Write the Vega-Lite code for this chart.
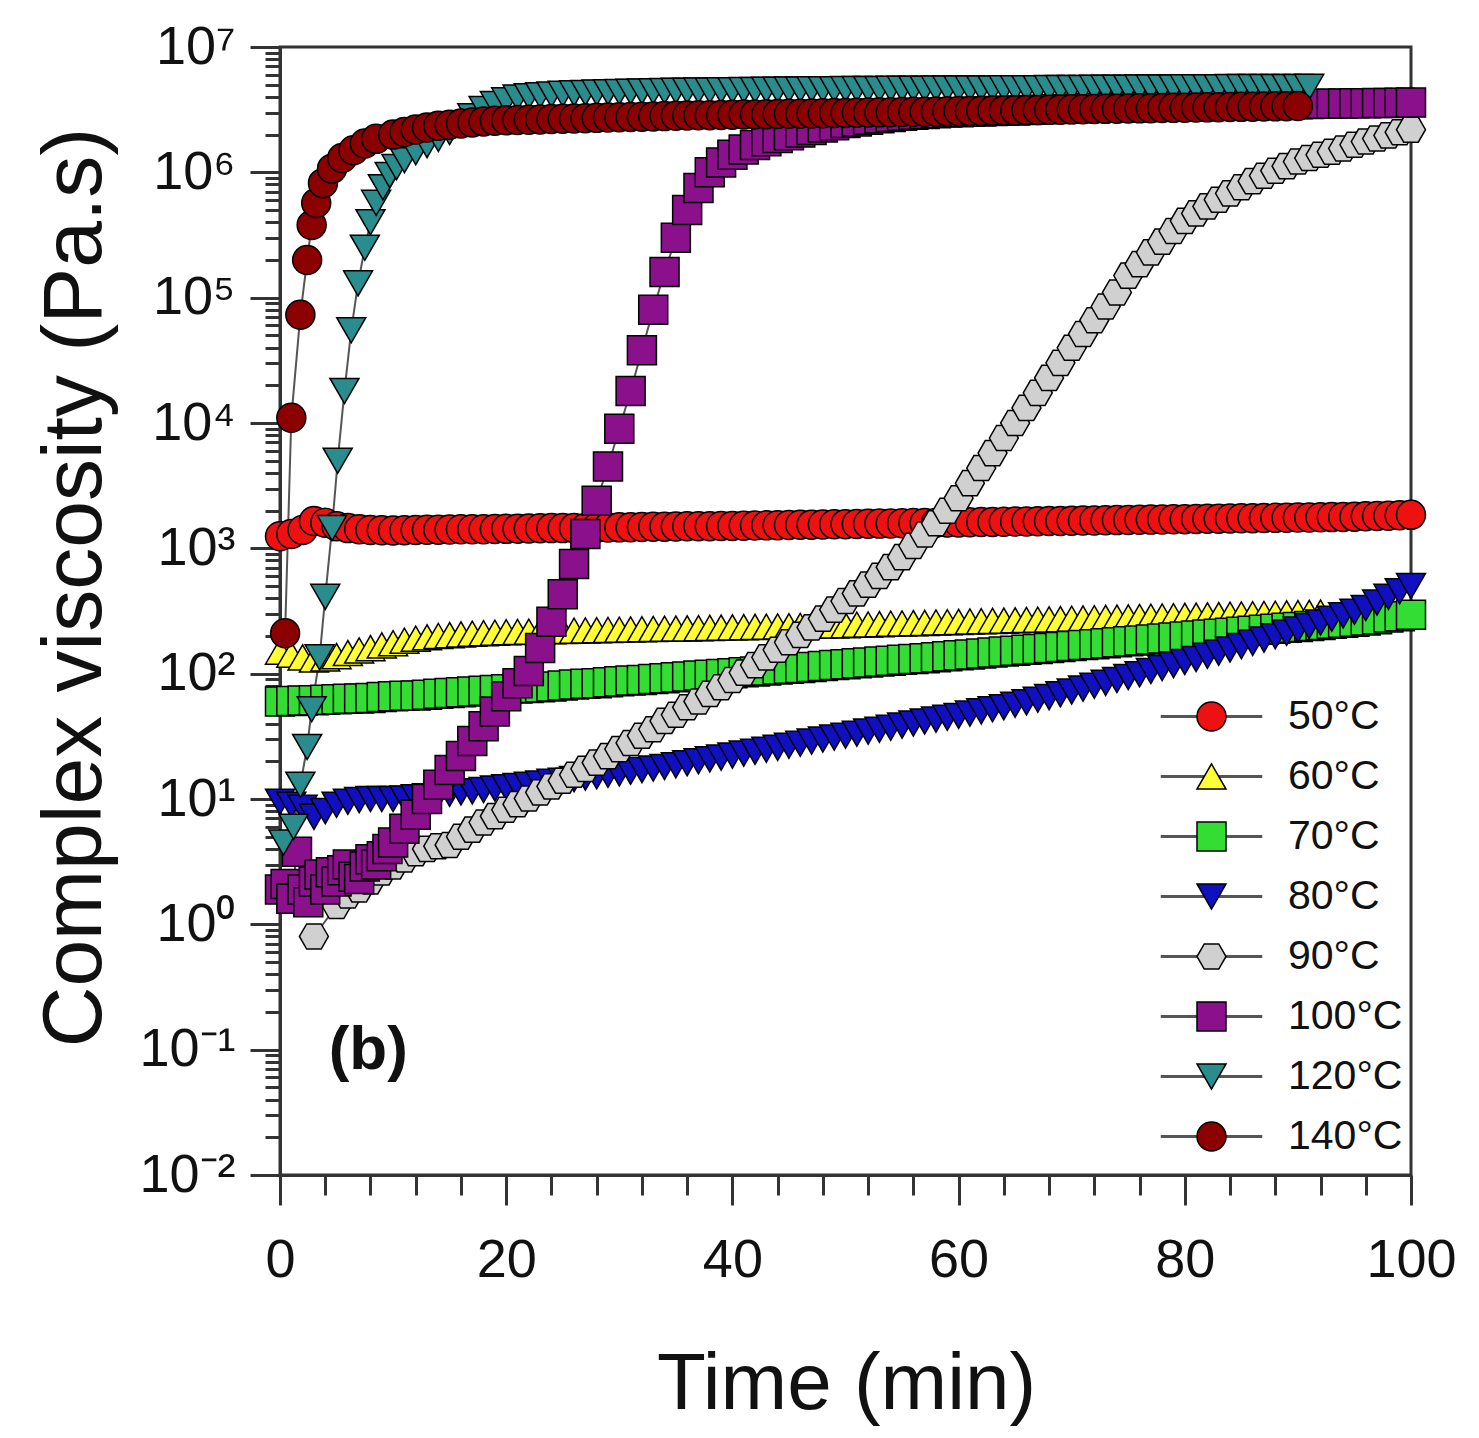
{
  "$schema": "https://vega.github.io/schema/vega-lite/v6.json",
  "width": 1131,
  "height": 1128,
  "autosize": "none",
  "padding": {"left": 280, "top": 47, "right": 68, "bottom": 263},
  "background": "white",
  "config": {
    "view": {"stroke": "#333", "strokeWidth": 3},
    "font": "Liberation Sans"
  },
  "data": {"values": [
    {"s":"50°C","t":0,"v":1250},{"s":"50°C","t":1,"v":1300},{"s":"50°C","t":2,"v":1400},{"s":"50°C","t":3,"v":1650},{"s":"50°C","t":4,"v":1600},{"s":"50°C","t":5,"v":1500},{"s":"50°C","t":6,"v":1450},{"s":"50°C","t":7,"v":1420},{"s":"50°C","t":8,"v":1400},{"s":"50°C","t":9,"v":1395},{"s":"50°C","t":10,"v":1390},{"s":"50°C","t":11,"v":1395},{"s":"50°C","t":12,"v":1400},{"s":"50°C","t":13,"v":1405},{"s":"50°C","t":14,"v":1410},{"s":"50°C","t":15,"v":1415},{"s":"50°C","t":16,"v":1420},{"s":"50°C","t":17,"v":1420},{"s":"50°C","t":18,"v":1420},{"s":"50°C","t":19,"v":1425},{"s":"50°C","t":20,"v":1430},{"s":"50°C","t":21,"v":1435},{"s":"50°C","t":22,"v":1440},{"s":"50°C","t":23,"v":1445},{"s":"50°C","t":24,"v":1450},{"s":"50°C","t":25,"v":1450},{"s":"50°C","t":26,"v":1450},{"s":"50°C","t":27,"v":1455},{"s":"50°C","t":28,"v":1460},{"s":"50°C","t":29,"v":1465},{"s":"50°C","t":30,"v":1470},{"s":"50°C","t":31,"v":1475},{"s":"50°C","t":32,"v":1480},{"s":"50°C","t":33,"v":1485},{"s":"50°C","t":34,"v":1490},{"s":"50°C","t":35,"v":1495},{"s":"50°C","t":36,"v":1500},{"s":"50°C","t":37,"v":1500},{"s":"50°C","t":38,"v":1500},{"s":"50°C","t":39,"v":1505},{"s":"50°C","t":40,"v":1510},{"s":"50°C","t":41,"v":1515},{"s":"50°C","t":42,"v":1520},{"s":"50°C","t":43,"v":1525},{"s":"50°C","t":44,"v":1530},{"s":"50°C","t":45,"v":1535},{"s":"50°C","t":46,"v":1540},{"s":"50°C","t":47,"v":1545},{"s":"50°C","t":48,"v":1550},{"s":"50°C","t":49,"v":1555},{"s":"50°C","t":50,"v":1560},{"s":"50°C","t":51,"v":1565},{"s":"50°C","t":52,"v":1570},{"s":"50°C","t":53,"v":1575},{"s":"50°C","t":54,"v":1580},{"s":"50°C","t":55,"v":1585},{"s":"50°C","t":56,"v":1590},{"s":"50°C","t":57,"v":1595},{"s":"50°C","t":58,"v":1600},{"s":"50°C","t":59,"v":1605},{"s":"50°C","t":60,"v":1610},{"s":"50°C","t":61,"v":1615},{"s":"50°C","t":62,"v":1620},{"s":"50°C","t":63,"v":1625},{"s":"50°C","t":64,"v":1630},{"s":"50°C","t":65,"v":1635},{"s":"50°C","t":66,"v":1640},{"s":"50°C","t":67,"v":1645},{"s":"50°C","t":68,"v":1650},{"s":"50°C","t":69,"v":1655},{"s":"50°C","t":70,"v":1660},{"s":"50°C","t":71,"v":1665},{"s":"50°C","t":72,"v":1670},{"s":"50°C","t":73,"v":1675},{"s":"50°C","t":74,"v":1680},{"s":"50°C","t":75,"v":1685},{"s":"50°C","t":76,"v":1690},{"s":"50°C","t":77,"v":1695},{"s":"50°C","t":78,"v":1700},{"s":"50°C","t":79,"v":1705},{"s":"50°C","t":80,"v":1710},{"s":"50°C","t":81,"v":1715},{"s":"50°C","t":82,"v":1720},{"s":"50°C","t":83,"v":1725},{"s":"50°C","t":84,"v":1730},{"s":"50°C","t":85,"v":1735},{"s":"50°C","t":86,"v":1740},{"s":"50°C","t":87,"v":1745},{"s":"50°C","t":88,"v":1750},{"s":"50°C","t":89,"v":1755},{"s":"50°C","t":90,"v":1760},{"s":"50°C","t":91,"v":1765},{"s":"50°C","t":92,"v":1770},{"s":"50°C","t":93,"v":1775},{"s":"50°C","t":94,"v":1780},{"s":"50°C","t":95,"v":1790},{"s":"50°C","t":96,"v":1800},{"s":"50°C","t":97,"v":1810},{"s":"50°C","t":98,"v":1820},{"s":"50°C","t":99,"v":1835},{"s":"50°C","t":100,"v":1850},

    {"s":"60°C","t":0,"v":150},{"s":"60°C","t":1,"v":142},{"s":"60°C","t":2,"v":135},{"s":"60°C","t":3,"v":130},{"s":"60°C","t":4,"v":132},{"s":"60°C","t":5,"v":138},{"s":"60°C","t":6,"v":146},{"s":"60°C","t":7,"v":153},{"s":"60°C","t":8,"v":160},{"s":"60°C","t":9,"v":168},{"s":"60°C","t":10,"v":175},{"s":"60°C","t":11,"v":183},{"s":"60°C","t":12,"v":190},{"s":"60°C","t":13,"v":195},{"s":"60°C","t":14,"v":200},{"s":"60°C","t":15,"v":203},{"s":"60°C","t":16,"v":206},{"s":"60°C","t":17,"v":208},{"s":"60°C","t":18,"v":210},{"s":"60°C","t":19,"v":212},{"s":"60°C","t":20,"v":214},{"s":"60°C","t":21,"v":215},{"s":"60°C","t":22,"v":216},{"s":"60°C","t":23,"v":217},{"s":"60°C","t":24,"v":218},{"s":"60°C","t":25,"v":219},{"s":"60°C","t":26,"v":220},{"s":"60°C","t":27,"v":221},{"s":"60°C","t":28,"v":222},{"s":"60°C","t":29,"v":223},{"s":"60°C","t":30,"v":224},{"s":"60°C","t":31,"v":225},{"s":"60°C","t":32,"v":226},{"s":"60°C","t":33,"v":227},{"s":"60°C","t":34,"v":228},{"s":"60°C","t":35,"v":229},{"s":"60°C","t":36,"v":230},{"s":"60°C","t":37,"v":231},{"s":"60°C","t":38,"v":232},{"s":"60°C","t":39,"v":233},{"s":"60°C","t":40,"v":234},{"s":"60°C","t":41,"v":235},{"s":"60°C","t":42,"v":236},{"s":"60°C","t":43,"v":237},{"s":"60°C","t":44,"v":238},{"s":"60°C","t":45,"v":239},{"s":"60°C","t":46,"v":240},{"s":"60°C","t":47,"v":241},{"s":"60°C","t":48,"v":242},{"s":"60°C","t":49,"v":243},{"s":"60°C","t":50,"v":244},{"s":"60°C","t":51,"v":245.5},{"s":"60°C","t":52,"v":247},{"s":"60°C","t":53,"v":248.5},{"s":"60°C","t":54,"v":250},{"s":"60°C","t":55,"v":251.5},{"s":"60°C","t":56,"v":253},{"s":"60°C","t":57,"v":254.5},{"s":"60°C","t":58,"v":256},{"s":"60°C","t":59,"v":257.5},{"s":"60°C","t":60,"v":259},{"s":"60°C","t":61,"v":260.5},{"s":"60°C","t":62,"v":262},{"s":"60°C","t":63,"v":263.5},{"s":"60°C","t":64,"v":265},{"s":"60°C","t":65,"v":266.5},{"s":"60°C","t":66,"v":268},{"s":"60°C","t":67,"v":269.5},{"s":"60°C","t":68,"v":271},{"s":"60°C","t":69,"v":272.5},{"s":"60°C","t":70,"v":274},{"s":"60°C","t":71,"v":275.5},{"s":"60°C","t":72,"v":277},{"s":"60°C","t":73,"v":278.5},{"s":"60°C","t":74,"v":280},{"s":"60°C","t":75,"v":281.5},{"s":"60°C","t":76,"v":283},{"s":"60°C","t":77,"v":284.5},{"s":"60°C","t":78,"v":286},{"s":"60°C","t":79,"v":287.5},{"s":"60°C","t":80,"v":289},{"s":"60°C","t":81,"v":290.5},{"s":"60°C","t":82,"v":292},{"s":"60°C","t":83,"v":293.5},{"s":"60°C","t":84,"v":295},{"s":"60°C","t":85,"v":296.5},{"s":"60°C","t":86,"v":298},{"s":"60°C","t":87,"v":299.5},{"s":"60°C","t":88,"v":301},{"s":"60°C","t":89,"v":302.5},{"s":"60°C","t":90,"v":304},{"s":"60°C","t":91,"v":305.5},{"s":"60°C","t":92,"v":307},

    {"s":"70°C","t":0,"v":60},{"s":"70°C","t":1,"v":60.5},{"s":"70°C","t":2,"v":61},{"s":"70°C","t":3,"v":61.5},{"s":"70°C","t":4,"v":62},{"s":"70°C","t":5,"v":62.5},{"s":"70°C","t":6,"v":63},{"s":"70°C","t":7,"v":63.5},{"s":"70°C","t":8,"v":64},{"s":"70°C","t":9,"v":65},{"s":"70°C","t":10,"v":66},{"s":"70°C","t":11,"v":66.5},{"s":"70°C","t":12,"v":67},{"s":"70°C","t":13,"v":68},{"s":"70°C","t":14,"v":69},{"s":"70°C","t":15,"v":70},{"s":"70°C","t":16,"v":71},{"s":"70°C","t":17,"v":72},{"s":"70°C","t":18,"v":73},{"s":"70°C","t":19,"v":74},{"s":"70°C","t":20,"v":75},{"s":"70°C","t":21,"v":76},{"s":"70°C","t":22,"v":77},{"s":"70°C","t":23,"v":78},{"s":"70°C","t":24,"v":79},{"s":"70°C","t":25,"v":80.5},{"s":"70°C","t":26,"v":82},{"s":"70°C","t":27,"v":83},{"s":"70°C","t":28,"v":84},{"s":"70°C","t":29,"v":85.5},{"s":"70°C","t":30,"v":87},{"s":"70°C","t":31,"v":88},{"s":"70°C","t":32,"v":89},{"s":"70°C","t":33,"v":90.5},{"s":"70°C","t":34,"v":92},{"s":"70°C","t":35,"v":93.5},{"s":"70°C","t":36,"v":95},{"s":"70°C","t":37,"v":96.5},{"s":"70°C","t":38,"v":98},{"s":"70°C","t":39,"v":99.5},{"s":"70°C","t":40,"v":101},{"s":"70°C","t":41,"v":102.5},{"s":"70°C","t":42,"v":104},{"s":"70°C","t":43,"v":106},{"s":"70°C","t":44,"v":108},{"s":"70°C","t":45,"v":109.5},{"s":"70°C","t":46,"v":111},{"s":"70°C","t":47,"v":113},{"s":"70°C","t":48,"v":115},{"s":"70°C","t":49,"v":117},{"s":"70°C","t":50,"v":119},{"s":"70°C","t":51,"v":121},{"s":"70°C","t":52,"v":123},{"s":"70°C","t":53,"v":125},{"s":"70°C","t":54,"v":127},{"s":"70°C","t":55,"v":129},{"s":"70°C","t":56,"v":131},{"s":"70°C","t":57,"v":133},{"s":"70°C","t":58,"v":135},{"s":"70°C","t":59,"v":137.5},{"s":"70°C","t":60,"v":140},{"s":"70°C","t":61,"v":142.5},{"s":"70°C","t":62,"v":145},{"s":"70°C","t":63,"v":147.5},{"s":"70°C","t":64,"v":150},{"s":"70°C","t":65,"v":152.5},{"s":"70°C","t":66,"v":155},{"s":"70°C","t":67,"v":157.5},{"s":"70°C","t":68,"v":160},{"s":"70°C","t":69,"v":163},{"s":"70°C","t":70,"v":166},{"s":"70°C","t":71,"v":169},{"s":"70°C","t":72,"v":172},{"s":"70°C","t":73,"v":175},{"s":"70°C","t":74,"v":178},{"s":"70°C","t":75,"v":181},{"s":"70°C","t":76,"v":184},{"s":"70°C","t":77,"v":187.5},{"s":"70°C","t":78,"v":191},{"s":"70°C","t":79,"v":194.5},{"s":"70°C","t":80,"v":198},{"s":"70°C","t":81,"v":201.5},{"s":"70°C","t":82,"v":205},{"s":"70°C","t":83,"v":208.5},{"s":"70°C","t":84,"v":212},{"s":"70°C","t":85,"v":216},{"s":"70°C","t":86,"v":220},{"s":"70°C","t":87,"v":224},{"s":"70°C","t":88,"v":228},{"s":"70°C","t":89,"v":232},{"s":"70°C","t":90,"v":236},{"s":"70°C","t":91,"v":240.5},{"s":"70°C","t":92,"v":245},{"s":"70°C","t":93,"v":250},{"s":"70°C","t":94,"v":255},{"s":"70°C","t":95,"v":260},{"s":"70°C","t":96,"v":265},{"s":"70°C","t":97,"v":272},{"s":"70°C","t":98,"v":280},{"s":"70°C","t":99,"v":287},{"s":"70°C","t":100,"v":295},

    {"s":"80°C","t":0,"v":9.5},{"s":"80°C","t":1,"v":9},{"s":"80°C","t":2,"v":8.5},{"s":"80°C","t":3,"v":7.2},{"s":"80°C","t":4,"v":8},{"s":"80°C","t":5,"v":9},{"s":"80°C","t":6,"v":9.5},{"s":"80°C","t":7,"v":9.8},{"s":"80°C","t":8,"v":10},{"s":"80°C","t":9,"v":10},{"s":"80°C","t":10,"v":10},{"s":"80°C","t":11,"v":10.1},{"s":"80°C","t":12,"v":10.3},{"s":"80°C","t":13,"v":10.5},{"s":"80°C","t":14,"v":10.8},{"s":"80°C","t":15,"v":11},{"s":"80°C","t":16,"v":11.3},{"s":"80°C","t":17,"v":11.5},{"s":"80°C","t":18,"v":11.8},{"s":"80°C","t":19,"v":12.1},{"s":"80°C","t":20,"v":12.4},{"s":"80°C","t":21,"v":12.7},{"s":"80°C","t":22,"v":13},{"s":"80°C","t":23,"v":13.3},{"s":"80°C","t":24,"v":13.7},{"s":"80°C","t":25,"v":14},{"s":"80°C","t":26,"v":14.4},{"s":"80°C","t":27,"v":14.8},{"s":"80°C","t":28,"v":15.2},{"s":"80°C","t":29,"v":15.6},{"s":"80°C","t":30,"v":16},{"s":"80°C","t":31,"v":16.5},{"s":"80°C","t":32,"v":17},{"s":"80°C","t":33,"v":17.5},{"s":"80°C","t":34,"v":18},{"s":"80°C","t":35,"v":18.6},{"s":"80°C","t":36,"v":19.3},{"s":"80°C","t":37,"v":20},{"s":"80°C","t":38,"v":20.7},{"s":"80°C","t":39,"v":21.4},{"s":"80°C","t":40,"v":22.2},{"s":"80°C","t":41,"v":23},{"s":"80°C","t":42,"v":23.8},{"s":"80°C","t":43,"v":24.7},{"s":"80°C","t":44,"v":25.6},{"s":"80°C","t":45,"v":26.6},{"s":"80°C","t":46,"v":27.6},{"s":"80°C","t":47,"v":28.7},{"s":"80°C","t":48,"v":29.8},{"s":"80°C","t":49,"v":30.9},{"s":"80°C","t":50,"v":32},{"s":"80°C","t":51,"v":33.2},{"s":"80°C","t":52,"v":34.5},{"s":"80°C","t":53,"v":35.7},{"s":"80°C","t":54,"v":37},{"s":"80°C","t":55,"v":38.5},{"s":"80°C","t":56,"v":40},{"s":"80°C","t":57,"v":41.5},{"s":"80°C","t":58,"v":43},{"s":"80°C","t":59,"v":44.5},{"s":"80°C","t":60,"v":46},{"s":"80°C","t":61,"v":48},{"s":"80°C","t":62,"v":50},{"s":"80°C","t":63,"v":52},{"s":"80°C","t":64,"v":54},{"s":"80°C","t":65,"v":56.5},{"s":"80°C","t":66,"v":59},{"s":"80°C","t":67,"v":62},{"s":"80°C","t":68,"v":65},{"s":"80°C","t":69,"v":68.5},{"s":"80°C","t":70,"v":72},{"s":"80°C","t":71,"v":76},{"s":"80°C","t":72,"v":80},{"s":"80°C","t":73,"v":84.5},{"s":"80°C","t":74,"v":89},{"s":"80°C","t":75,"v":94},{"s":"80°C","t":76,"v":99},{"s":"80°C","t":77,"v":105},{"s":"80°C","t":78,"v":111},{"s":"80°C","t":79,"v":117},{"s":"80°C","t":80,"v":124},{"s":"80°C","t":81,"v":131},{"s":"80°C","t":82,"v":139},{"s":"80°C","t":83,"v":147},{"s":"80°C","t":84,"v":156},{"s":"80°C","t":85,"v":166},{"s":"80°C","t":86,"v":176},{"s":"80°C","t":87,"v":187},{"s":"80°C","t":88,"v":199},{"s":"80°C","t":89,"v":212},{"s":"80°C","t":90,"v":225},{"s":"80°C","t":91,"v":240},{"s":"80°C","t":92,"v":256},{"s":"80°C","t":93,"v":274},{"s":"80°C","t":94,"v":292},{"s":"80°C","t":95,"v":312},{"s":"80°C","t":96,"v":334},{"s":"80°C","t":97,"v":370},{"s":"80°C","t":98,"v":410},{"s":"80°C","t":99,"v":455},{"s":"80°C","t":100,"v":500},

    {"s":"90°C","t":3,"v":0.8},{"s":"90°C","t":5,"v":1.4},{"s":"90°C","t":6,"v":1.7},{"s":"90°C","t":7,"v":1.9},{"s":"90°C","t":8,"v":2.2},{"s":"90°C","t":9,"v":2.6},{"s":"90°C","t":10,"v":2.9},{"s":"90°C","t":11,"v":3.3},{"s":"90°C","t":12,"v":3.7},{"s":"90°C","t":13,"v":4.0},{"s":"90°C","t":14,"v":4.2},{"s":"90°C","t":15,"v":4.3},{"s":"90°C","t":16,"v":5},{"s":"90°C","t":17,"v":5.7},{"s":"90°C","t":18,"v":6.5},{"s":"90°C","t":19,"v":7.3},{"s":"90°C","t":20,"v":8.2},{"s":"90°C","t":21,"v":9.1},{"s":"90°C","t":22,"v":10.1},{"s":"90°C","t":23,"v":11.3},{"s":"90°C","t":24,"v":12.6},{"s":"90°C","t":25,"v":14},{"s":"90°C","t":26,"v":15.6},{"s":"90°C","t":27,"v":17.4},{"s":"90°C","t":28,"v":19.5},{"s":"90°C","t":29,"v":22},{"s":"90°C","t":30,"v":25},{"s":"90°C","t":31,"v":28},{"s":"90°C","t":32,"v":32},{"s":"90°C","t":33,"v":36},{"s":"90°C","t":34,"v":42},{"s":"90°C","t":35,"v":47},{"s":"90°C","t":36,"v":54},{"s":"90°C","t":37,"v":60},{"s":"90°C","t":38,"v":69},{"s":"90°C","t":39,"v":78},{"s":"90°C","t":40,"v":89},{"s":"90°C","t":41,"v":102},{"s":"90°C","t":42,"v":117},{"s":"90°C","t":43,"v":135},{"s":"90°C","t":44,"v":155},{"s":"90°C","t":45,"v":178},{"s":"90°C","t":46,"v":204},{"s":"90°C","t":47,"v":234},{"s":"90°C","t":48,"v":275},{"s":"90°C","t":49,"v":324},{"s":"90°C","t":50,"v":380},{"s":"90°C","t":51,"v":437},{"s":"90°C","t":52,"v":513},{"s":"90°C","t":53,"v":603},{"s":"90°C","t":54,"v":708},{"s":"90°C","t":55,"v":851},{"s":"90°C","t":56,"v":1047},{"s":"90°C","t":57,"v":1288},{"s":"90°C","t":58,"v":1585},{"s":"90°C","t":59,"v":1995},{"s":"90°C","t":60,"v":2510},{"s":"90°C","t":61,"v":3310},{"s":"90°C","t":62,"v":4370},{"s":"90°C","t":63,"v":5750},{"s":"90°C","t":64,"v":7590},{"s":"90°C","t":65,"v":1.0e4},{"s":"90°C","t":66,"v":1.32e4},{"s":"90°C","t":67,"v":1.74e4},{"s":"90°C","t":68,"v":2.29e4},{"s":"90°C","t":69,"v":3.02e4},{"s":"90°C","t":70,"v":3.98e4},{"s":"90°C","t":71,"v":5.13e4},{"s":"90°C","t":72,"v":6.61e4},{"s":"90°C","t":73,"v":8.5e4},{"s":"90°C","t":74,"v":1.1e5},{"s":"90°C","t":75,"v":1.5e5},{"s":"90°C","t":76,"v":1.85e5},{"s":"90°C","t":77,"v":2.3e5},{"s":"90°C","t":78,"v":2.8e5},{"s":"90°C","t":79,"v":3.4e5},{"s":"90°C","t":80,"v":4.1e5},{"s":"90°C","t":81,"v":4.7e5},{"s":"90°C","t":82,"v":5.35e5},{"s":"90°C","t":83,"v":6.05e5},{"s":"90°C","t":84,"v":6.8e5},{"s":"90°C","t":85,"v":7.6e5},{"s":"90°C","t":86,"v":8.5e5},{"s":"90°C","t":87,"v":9.4e5},{"s":"90°C","t":88,"v":1.03e6},{"s":"90°C","t":89,"v":1.12e6},{"s":"90°C","t":90,"v":1.22e6},{"s":"90°C","t":91,"v":1.3e6},{"s":"90°C","t":92,"v":1.38e6},{"s":"90°C","t":93,"v":1.46e6},{"s":"90°C","t":94,"v":1.55e6},{"s":"90°C","t":95,"v":1.66e6},{"s":"90°C","t":96,"v":1.76e6},{"s":"90°C","t":97,"v":1.86e6},{"s":"90°C","t":98,"v":1.97e6},{"s":"90°C","t":99,"v":2.09e6},{"s":"90°C","t":100,"v":2.19e6},

    {"s":"100°C","t":0,"v":1.9},{"s":"100°C","t":0.5,"v":2.1},{"s":"100°C","t":1,"v":1.6},{"s":"100°C","t":1.5,"v":3.8},{"s":"100°C","t":2,"v":1.9},{"s":"100°C","t":2.5,"v":1.5},{"s":"100°C","t":3,"v":2.2},{"s":"100°C","t":3.5,"v":2.5},{"s":"100°C","t":4,"v":1.9},{"s":"100°C","t":4.5,"v":2.6},{"s":"100°C","t":5,"v":2.2},{"s":"100°C","t":5.5,"v":2.7},{"s":"100°C","t":6,"v":3.0},{"s":"100°C","t":6.5,"v":2.4},{"s":"100°C","t":7,"v":2.3},{"s":"100°C","t":7.5,"v":2.9},{"s":"100°C","t":8,"v":3.3},{"s":"100°C","t":8.5,"v":3.0},{"s":"100°C","t":9,"v":3.5},{"s":"100°C","t":9.5,"v":4.0},{"s":"100°C","t":10,"v":4.5},{"s":"100°C","t":11,"v":5.8},{"s":"100°C","t":12,"v":7.5},{"s":"100°C","t":13,"v":10},{"s":"100°C","t":14,"v":13},{"s":"100°C","t":15,"v":17},{"s":"100°C","t":16,"v":22},{"s":"100°C","t":17,"v":29},{"s":"100°C","t":18,"v":38},{"s":"100°C","t":19,"v":50},{"s":"100°C","t":20,"v":66},{"s":"100°C","t":21,"v":84},{"s":"100°C","t":22,"v":105},{"s":"100°C","t":23,"v":160},{"s":"100°C","t":24,"v":260},{"s":"100°C","t":25,"v":430},{"s":"100°C","t":26,"v":750},{"s":"100°C","t":27,"v":1300},{"s":"100°C","t":28,"v":2400},{"s":"100°C","t":29,"v":4500},{"s":"100°C","t":30,"v":9000},{"s":"100°C","t":31,"v":1.8e4},{"s":"100°C","t":32,"v":3.8e4},{"s":"100°C","t":33,"v":8e4},{"s":"100°C","t":34,"v":1.6e5},{"s":"100°C","t":35,"v":3e5},{"s":"100°C","t":36,"v":5e5},{"s":"100°C","t":37,"v":7.5e5},{"s":"100°C","t":38,"v":1e6},{"s":"100°C","t":39,"v":1.2e6},{"s":"100°C","t":40,"v":1.38e6},{"s":"100°C","t":41,"v":1.52e6},{"s":"100°C","t":42,"v":1.65e6},{"s":"100°C","t":43,"v":1.77e6},{"s":"100°C","t":44,"v":1.88e6},{"s":"100°C","t":45,"v":1.98e6},{"s":"100°C","t":46,"v":2.08e6},{"s":"100°C","t":47,"v":2.18e6},{"s":"100°C","t":48,"v":2.28e6},{"s":"100°C","t":49,"v":2.38e6},{"s":"100°C","t":50,"v":2.47e6},{"s":"100°C","t":51,"v":2.55e6},{"s":"100°C","t":52,"v":2.63e6},{"s":"100°C","t":53,"v":2.7e6},{"s":"100°C","t":54,"v":2.77e6},{"s":"100°C","t":55,"v":2.83e6},{"s":"100°C","t":56,"v":2.88e6},{"s":"100°C","t":57,"v":2.92e6},{"s":"100°C","t":58,"v":2.96e6},{"s":"100°C","t":59,"v":3.0e6},{"s":"100°C","t":60,"v":3.02e6},{"s":"100°C","t":61,"v":3.04e6},{"s":"100°C","t":62,"v":3.06e6},{"s":"100°C","t":63,"v":3.08e6},{"s":"100°C","t":64,"v":3.1e6},{"s":"100°C","t":65,"v":3.12e6},{"s":"100°C","t":66,"v":3.14e6},{"s":"100°C","t":67,"v":3.16e6},{"s":"100°C","t":68,"v":3.18e6},{"s":"100°C","t":69,"v":3.2e6},{"s":"100°C","t":70,"v":3.22e6},{"s":"100°C","t":71,"v":3.24e6},{"s":"100°C","t":72,"v":3.26e6},{"s":"100°C","t":73,"v":3.27e6},{"s":"100°C","t":74,"v":3.28e6},{"s":"100°C","t":75,"v":3.3e6},{"s":"100°C","t":76,"v":3.31e6},{"s":"100°C","t":77,"v":3.32e6},{"s":"100°C","t":78,"v":3.34e6},{"s":"100°C","t":79,"v":3.35e6},{"s":"100°C","t":80,"v":3.36e6},{"s":"100°C","t":81,"v":3.38e6},{"s":"100°C","t":82,"v":3.39e6},{"s":"100°C","t":83,"v":3.41e6},{"s":"100°C","t":84,"v":3.42e6},{"s":"100°C","t":85,"v":3.44e6},{"s":"100°C","t":86,"v":3.45e6},{"s":"100°C","t":87,"v":3.46e6},{"s":"100°C","t":88,"v":3.47e6},{"s":"100°C","t":89,"v":3.49e6},{"s":"100°C","t":90,"v":3.5e6},{"s":"100°C","t":91,"v":3.51e6},{"s":"100°C","t":92,"v":3.52e6},{"s":"100°C","t":93,"v":3.53e6},{"s":"100°C","t":94,"v":3.54e6},{"s":"100°C","t":95,"v":3.55e6},{"s":"100°C","t":96,"v":3.56e6},{"s":"100°C","t":97,"v":3.57e6},{"s":"100°C","t":98,"v":3.58e6},{"s":"100°C","t":99,"v":3.59e6},{"s":"100°C","t":100,"v":3.6e6},

    {"s":"120°C","t":0.3,"v":4.5},{"s":"120°C","t":1.2,"v":6},{"s":"120°C","t":1.8,"v":13},{"s":"120°C","t":2.4,"v":26},{"s":"120°C","t":2.8,"v":52},{"s":"120°C","t":3.5,"v":135},{"s":"120°C","t":4.0,"v":410},{"s":"120°C","t":4.6,"v":1450},{"s":"120°C","t":5.1,"v":5000},{"s":"120°C","t":5.7,"v":1.8e4},{"s":"120°C","t":6.3,"v":5.5e4},{"s":"120°C","t":6.9,"v":1.3e5},{"s":"120°C","t":7.5,"v":2.5e5},{"s":"120°C","t":8.0,"v":4e5},{"s":"120°C","t":8.5,"v":5.7e5},{"s":"120°C","t":9.1,"v":7.6e5},{"s":"120°C","t":9.7,"v":9.5e5},{"s":"120°C","t":10.3,"v":1.1e6},{"s":"120°C","t":11,"v":1.25e6},{"s":"120°C","t":12,"v":1.45e6},{"s":"120°C","t":13,"v":1.65e6},{"s":"120°C","t":14,"v":1.85e6},{"s":"120°C","t":15,"v":2.1e6},{"s":"120°C","t":16,"v":2.4e6},{"s":"120°C","t":17,"v":2.8e6},{"s":"120°C","t":18,"v":3.2e6},{"s":"120°C","t":19,"v":3.5e6},{"s":"120°C","t":20,"v":3.75e6},{"s":"120°C","t":21,"v":3.95e6},{"s":"120°C","t":22,"v":4.05e6},{"s":"120°C","t":23,"v":4.12e6},{"s":"120°C","t":24,"v":4.18e6},{"s":"120°C","t":25,"v":4.23e6},{"s":"120°C","t":26,"v":4.27e6},{"s":"120°C","t":27,"v":4.3e6},{"s":"120°C","t":28,"v":4.33e6},{"s":"120°C","t":29,"v":4.36e6},{"s":"120°C","t":30,"v":4.38e6},{"s":"120°C","t":31,"v":4.4e6},{"s":"120°C","t":32,"v":4.42e6},{"s":"120°C","t":33,"v":4.44e6},{"s":"120°C","t":34,"v":4.45e6},{"s":"120°C","t":35,"v":4.47e6},{"s":"120°C","t":36,"v":4.48e6},{"s":"120°C","t":37,"v":4.49e6},{"s":"120°C","t":38,"v":4.5e6},{"s":"120°C","t":39,"v":4.51e6},{"s":"120°C","t":40,"v":4.52e6},{"s":"120°C","t":41,"v":4.53e6},{"s":"120°C","t":42,"v":4.54e6},{"s":"120°C","t":43,"v":4.55e6},{"s":"120°C","t":44,"v":4.56e6},{"s":"120°C","t":45,"v":4.57e6},{"s":"120°C","t":46,"v":4.58e6},{"s":"120°C","t":47,"v":4.59e6},{"s":"120°C","t":48,"v":4.6e6},{"s":"120°C","t":49,"v":4.6e6},{"s":"120°C","t":50,"v":4.61e6},{"s":"120°C","t":51,"v":4.61e6},{"s":"120°C","t":52,"v":4.62e6},{"s":"120°C","t":53,"v":4.62e6},{"s":"120°C","t":54,"v":4.63e6},{"s":"120°C","t":55,"v":4.63e6},{"s":"120°C","t":56,"v":4.64e6},{"s":"120°C","t":57,"v":4.64e6},{"s":"120°C","t":58,"v":4.65e6},{"s":"120°C","t":59,"v":4.65e6},{"s":"120°C","t":60,"v":4.66e6},{"s":"120°C","t":61,"v":4.66e6},{"s":"120°C","t":62,"v":4.67e6},{"s":"120°C","t":63,"v":4.67e6},{"s":"120°C","t":64,"v":4.68e6},{"s":"120°C","t":65,"v":4.68e6},{"s":"120°C","t":66,"v":4.69e6},{"s":"120°C","t":67,"v":4.69e6},{"s":"120°C","t":68,"v":4.7e6},{"s":"120°C","t":69,"v":4.7e6},{"s":"120°C","t":70,"v":4.71e6},{"s":"120°C","t":71,"v":4.71e6},{"s":"120°C","t":72,"v":4.72e6},{"s":"120°C","t":73,"v":4.72e6},{"s":"120°C","t":74,"v":4.73e6},{"s":"120°C","t":75,"v":4.73e6},{"s":"120°C","t":76,"v":4.74e6},{"s":"120°C","t":77,"v":4.74e6},{"s":"120°C","t":78,"v":4.75e6},{"s":"120°C","t":79,"v":4.75e6},{"s":"120°C","t":80,"v":4.76e6},{"s":"120°C","t":81,"v":4.76e6},{"s":"120°C","t":82,"v":4.77e6},{"s":"120°C","t":83,"v":4.77e6},{"s":"120°C","t":84,"v":4.78e6},{"s":"120°C","t":85,"v":4.78e6},{"s":"120°C","t":86,"v":4.79e6},{"s":"120°C","t":87,"v":4.79e6},{"s":"120°C","t":88,"v":4.8e6},{"s":"120°C","t":89,"v":4.8e6},{"s":"120°C","t":90,"v":4.8e6},{"s":"120°C","t":91,"v":4.81e6},

    {"s":"140°C","t":0.45,"v":210},{"s":"140°C","t":1.0,"v":1.1e4},{"s":"140°C","t":1.8,"v":7.3e4},{"s":"140°C","t":2.4,"v":2e5},{"s":"140°C","t":2.8,"v":3.8e5},{"s":"140°C","t":3.2,"v":5.7e5},{"s":"140°C","t":3.8,"v":8.2e5},{"s":"140°C","t":4.6,"v":1.07e6},{"s":"140°C","t":5.5,"v":1.3e6},{"s":"140°C","t":6.5,"v":1.5e6},{"s":"140°C","t":7.5,"v":1.7e6},{"s":"140°C","t":8.5,"v":1.85e6},{"s":"140°C","t":10,"v":2e6},{"s":"140°C","t":11,"v":2.1e6},{"s":"140°C","t":12,"v":2.2e6},{"s":"140°C","t":13,"v":2.28e6},{"s":"140°C","t":14,"v":2.35e6},{"s":"140°C","t":15,"v":2.4e6},{"s":"140°C","t":16,"v":2.45e6},{"s":"140°C","t":17,"v":2.5e6},{"s":"140°C","t":18,"v":2.55e6},{"s":"140°C","t":19,"v":2.58e6},{"s":"140°C","t":20,"v":2.6e6},{"s":"140°C","t":21,"v":2.615e6},{"s":"140°C","t":22,"v":2.63e6},{"s":"140°C","t":23,"v":2.645e6},{"s":"140°C","t":24,"v":2.66e6},{"s":"140°C","t":25,"v":2.675e6},{"s":"140°C","t":26,"v":2.69e6},{"s":"140°C","t":27,"v":2.705e6},{"s":"140°C","t":28,"v":2.72e6},{"s":"140°C","t":29,"v":2.735e6},{"s":"140°C","t":30,"v":2.75e6},{"s":"140°C","t":31,"v":2.765e6},{"s":"140°C","t":32,"v":2.78e6},{"s":"140°C","t":33,"v":2.795e6},{"s":"140°C","t":34,"v":2.81e6},{"s":"140°C","t":35,"v":2.825e6},{"s":"140°C","t":36,"v":2.84e6},{"s":"140°C","t":37,"v":2.85e6},{"s":"140°C","t":38,"v":2.86e6},{"s":"140°C","t":39,"v":2.87e6},{"s":"140°C","t":40,"v":2.88e6},{"s":"140°C","t":41,"v":2.89e6},{"s":"140°C","t":42,"v":2.9e6},{"s":"140°C","t":43,"v":2.91e6},{"s":"140°C","t":44,"v":2.92e6},{"s":"140°C","t":45,"v":2.93e6},{"s":"140°C","t":46,"v":2.94e6},{"s":"140°C","t":47,"v":2.95e6},{"s":"140°C","t":48,"v":2.96e6},{"s":"140°C","t":49,"v":2.97e6},{"s":"140°C","t":50,"v":2.98e6},{"s":"140°C","t":51,"v":2.99e6},{"s":"140°C","t":52,"v":3.0e6},{"s":"140°C","t":53,"v":3.01e6},{"s":"140°C","t":54,"v":3.02e6},{"s":"140°C","t":55,"v":3.03e6},{"s":"140°C","t":56,"v":3.04e6},{"s":"140°C","t":57,"v":3.05e6},{"s":"140°C","t":58,"v":3.06e6},{"s":"140°C","t":59,"v":3.07e6},{"s":"140°C","t":60,"v":3.08e6},{"s":"140°C","t":61,"v":3.09e6},{"s":"140°C","t":62,"v":3.1e6},{"s":"140°C","t":63,"v":3.11e6},{"s":"140°C","t":64,"v":3.12e6},{"s":"140°C","t":65,"v":3.13e6},{"s":"140°C","t":66,"v":3.14e6},{"s":"140°C","t":67,"v":3.15e6},{"s":"140°C","t":68,"v":3.16e6},{"s":"140°C","t":69,"v":3.17e6},{"s":"140°C","t":70,"v":3.18e6},{"s":"140°C","t":71,"v":3.19e6},{"s":"140°C","t":72,"v":3.2e6},{"s":"140°C","t":73,"v":3.21e6},{"s":"140°C","t":74,"v":3.22e6},{"s":"140°C","t":75,"v":3.23e6},{"s":"140°C","t":76,"v":3.24e6},{"s":"140°C","t":77,"v":3.25e6},{"s":"140°C","t":78,"v":3.26e6},{"s":"140°C","t":79,"v":3.27e6},{"s":"140°C","t":80,"v":3.28e6},{"s":"140°C","t":81,"v":3.29e6},{"s":"140°C","t":82,"v":3.3e6},{"s":"140°C","t":83,"v":3.31e6},{"s":"140°C","t":84,"v":3.32e6},{"s":"140°C","t":85,"v":3.33e6},{"s":"140°C","t":86,"v":3.34e6},{"s":"140°C","t":87,"v":3.35e6},{"s":"140°C","t":88,"v":3.36e6},{"s":"140°C","t":89,"v":3.37e6},{"s":"140°C","t":90,"v":3.38e6}
  ]},
  "layer": [
    {
      "mark": {"type": "line", "strokeWidth": 2},
      "encoding": {
        "x": {
          "field": "t", "type": "quantitative",
          "scale": {"domain": [0, 100], "nice": false},
          "axis": {
            "values": [0,4,8,12,16,20,24,28,32,36,40,44,48,52,56,60,64,68,72,76,80,84,88,92,96,100],
            "labelExpr": "datum.value % 20 === 0 ? datum.label : ''",
            "tickSize": {"condition": {"test": "datum.value % 20 === 0", "value": 30}, "value": 20},
            "tickWidth": 3, "tickColor": "#333", "domainColor": "#333", "domainWidth": 3,
            "grid": false, "labelFontSize": 54, "labelColor": "#111", "labelPadding": 28,
            "labelFlush": false, "labelOverlap": false,
            "title": "Time (min)", "titleFont": "Liberation Sans",
            "titleFontSize": 80, "titleFontWeight": "normal", "titleColor": "#111",
            "titleX": 566, "titleY": 233, "titleBaseline": "alphabetic", "titleAlign": "center"
          }
        },
        "y": {
          "field": "v", "type": "quantitative",
          "scale": {"type": "log", "domain": [0.01, 10000000], "nice": false},
          "axis": {
            "values": [0.01,0.02,0.03,0.04,0.05,0.06,0.07,0.08,0.09,0.1,0.2,0.3,0.4,0.5,0.6,0.7,0.8,0.9,1,2,3,4,5,6,7,8,9,10,20,30,40,50,60,70,80,90,100,200,300,400,500,600,700,800,900,1000,2000,3000,4000,5000,6000,7000,8000,9000,10000,20000,30000,40000,50000,60000,70000,80000,90000,100000,200000,300000,400000,500000,600000,700000,800000,900000,1000000,2000000,3000000,4000000,5000000,6000000,7000000,8000000,9000000,10000000],
            "labelExpr": "abs(log(datum.value)/LN10 - round(log(datum.value)/LN10)) < 0.01 ? '10' + ['⁻²','⁻¹','⁰','¹','²','³','⁴','⁵','⁶','⁷'][round(log(datum.value)/LN10) + 2] : ''",
            "tickSize": {"condition": {"test": "abs(log(datum.value)/LN10 - round(log(datum.value)/LN10)) < 0.01", "value": 30}, "value": 15},
            "tickWidth": 3, "tickColor": "#333", "domainColor": "#333", "domainWidth": 3,
            "grid": false, "labelFontSize": 54, "labelColor": "#111", "labelPadding": 15,
            "labelFlush": false, "labelOverlap": false, "labelBound": false,
            "title": "Complex viscosity (Pa.s)", "titleFont": "Liberation Sans",
            "titleFontSize": 84, "titleFontWeight": "normal", "titleColor": "#111",
            "titleAngle": 270, "titleX": -180, "titleY": 540, "titleBaseline": "alphabetic", "titleAlign": "center"
          }
        },
        "color": {
          "field": "s", "type": "nominal",
          "scale": {
            "domain": ["140°C","120°C","100°C","90°C","80°C","70°C","60°C","50°C"],
            "range": ["#555","#555","#555","#555","#555","#555","#555","#555"]
          },
          "legend": {
            "orient": "none", "legendX": 911, "legendY": 649, "title": null,
            "symbolType": "M-3.5,0H3.5", "symbolSize": 841, "symbolStrokeWidth": 3,
            "symbolStrokeColor": "#555", "symbolFillColor": "transparent",
            "labelFontSize": 41, "labelColor": "#111", "labelOffset": 56, "labelExpr": "''",
            "rowPadding": 18, "padding": 0, "zindex": 0
          }
        }
      }
    },
    {
      "mark": {"type": "point", "filled": true, "opacity": 1, "strokeWidth": 1.5, "size": 841},
      "encoding": {
        "x": {"field": "t", "type": "quantitative"},
        "y": {"field": "v", "type": "quantitative"},
        "fill": {
          "field": "s", "type": "nominal",
          "scale": {
            "domain": ["50°C","60°C","70°C","80°C","90°C","100°C","120°C","140°C"],
            "range": ["#EE1111","#FFFF33","#33DD33","#1010C0","#D0D0D0","#8B108B","#2A8C8C","#8B0000"]
          },
          "legend": {
            "orient": "none", "legendX": 911, "legendY": 649, "title": null,
            "symbolSize": 841, "symbolStrokeWidth": 1.5, "symbolOpacity": 1,
            "labelFontSize": 41, "labelColor": "#111", "labelOffset": 56,
            "rowPadding": 18, "padding": 0, "zindex": 1
          }
        },
        "stroke": {
          "field": "s", "type": "nominal",
          "scale": {
            "domain": ["50°C","60°C","70°C","80°C","90°C","100°C","120°C","140°C"],
            "range": ["#000","#000","#000","#000","#000","#000","#000","#000"]
          },
          "legend": {
            "orient": "none", "legendX": 911, "legendY": 649, "title": null,
            "symbolSize": 841, "symbolStrokeWidth": 1.5, "symbolOpacity": 1,
            "labelFontSize": 41, "labelColor": "#111", "labelOffset": 56,
            "rowPadding": 18, "padding": 0, "zindex": 1
          }
        },
        "shape": {
          "field": "s", "type": "nominal",
          "scale": {
            "domain": ["50°C","60°C","70°C","80°C","90°C","100°C","120°C","140°C"],
            "range": ["circle","triangle-up","square","triangle-down","M-1,0L-0.5,-0.866L0.5,-0.866L1,0L0.5,0.866L-0.5,0.866Z","square","triangle-down","circle"]
          },
          "legend": {
            "orient": "none", "legendX": 911, "legendY": 649, "title": null,
            "symbolSize": 841, "symbolStrokeWidth": 1.5, "symbolOpacity": 1,
            "labelFontSize": 41, "labelColor": "#111", "labelOffset": 56,
            "rowPadding": 18, "padding": 0, "zindex": 1
          }
        }
      }
    },
    {
      "data": {"values": [{"label": "(b)"}]},
      "mark": {"type": "text", "fontSize": 62, "fontWeight": "bold", "font": "Liberation Sans", "color": "#111", "align": "center", "baseline": "middle"},
      "encoding": {
        "x": {"datum": 7.8, "type": "quantitative"},
        "y": {"datum": 0.1, "type": "quantitative"},
        "text": {"field": "label"}
      }
    }
  ]
}
